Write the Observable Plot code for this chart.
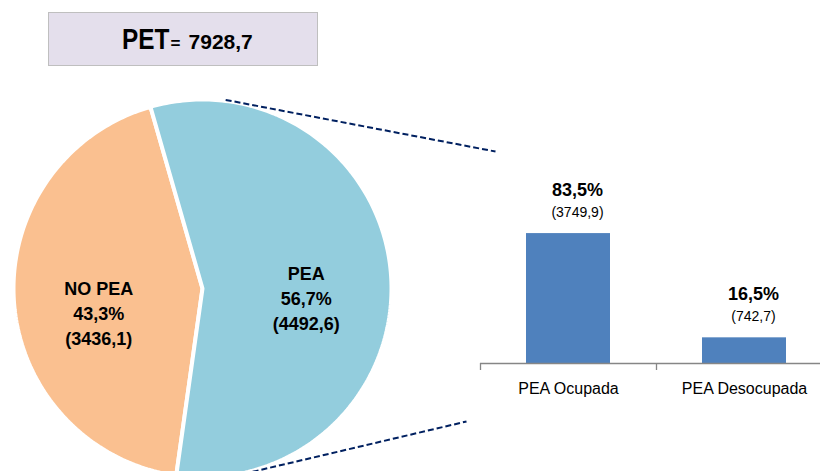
<!DOCTYPE html>
<html>
<head>
<meta charset="utf-8">
<script src="https://cdn.jsdelivr.net/npm/d3@7"></script>
<script src="https://cdn.jsdelivr.net/npm/@observablehq/plot@0.6"></script>
<style>
  body { margin: 0; background: #fff; }
  #wrap { position: relative; width: 820px; height: 471px; overflow: hidden; font-family: "Liberation Sans", Arial, sans-serif; color: #000; }
  #title { position: absolute; left: 48px; top: 12px; width: 268px; height: 52px; background: #E4DFEC; border: 1px solid #BFBFBF;
           display: flex; align-items: baseline; justify-content: center; font-weight: bold; line-height: 52px; }
  #title .big { display: inline-block; font-size: 29px; transform: scaleX(0.84); transform-origin: right center; }
  #title .eq { font-size: 17px; margin: 0 8px 0 1px; }
  #title .num { display: inline-block; font-size: 21px; }
  #pie { position: absolute; left: 0; top: 0; }
  #bars { position: absolute; left: 480px; top: 150px; }
</style>
</head>
<body>
<div id="wrap">
  <div id="pie"></div>
  <div id="bars"></div>
  <div id="title"></div>
</div>
<script>
// ---------- data ----------
const titleLabel = "PET";
const petTotal = 7928.7;

const pieCategories = ["NO PEA", "PEA"];
const pieValues = [3436.1, 4492.6];
const piePercents = [43.3, 56.7];

const barCategories = ["PEA Ocupada", "PEA Desocupada"];
const barPercents = [83.5, 16.5];
const barValues = [3749.9, 742.7];

// ---------- helpers ----------
const fmt = v => v.toFixed(1).replace(".", ",");

document.getElementById("title").innerHTML =
  `<span class="big">${titleLabel}</span><span class="eq">=</span><span class="num">${fmt(petTotal)}</span>`;

// ---------- pie (layout constants in px) ----------
const cx = 202, cy = 288, R = 189;
const peaCentre = 86; // degrees clockwise from 12 o'clock, slice facing the bars
const total = d3.sum(pieValues);
const spans = pieValues.map(v => v / total * 360);
const peaIdx = 1, noIdx = 0;
const starts = [];
starts[peaIdx] = peaCentre - spans[peaIdx] / 2;
starts[noIdx] = starts[peaIdx] + spans[peaIdx];
const pt = (a, r) => [cx + r * Math.sin(a * Math.PI / 180), cy - r * Math.cos(a * Math.PI / 180)];

const pieColors = ["#FAC090", "#93CDDD"];
const slices = pieCategories.map((c, i) => {
  const pts = [{x: cx, y: cy}];
  const a0 = starts[i], a1 = starts[i] + spans[i];
  const n = Math.ceil(spans[i]);
  for (let k = 0; k <= n; k++) {
    const [x, y] = pt(a0 + (a1 - a0) * k / n, R);
    pts.push({x, y});
  }
  return pts;
});
const pieLabelData = pieCategories.map((c, i) => {
  const [x, y] = pt(starts[i] + spans[i] / 2, R * 0.55);
  return {x, y, text: `${c}\n${fmt(piePercents[i])}%\n(${fmt(pieValues[i])})`};
});

// connectors from the PEA slice edge to the bar panel
const connectorAngles = [7, 164.7];
const connectorEnds = [[495, 151], [466, 421]];
const connectors = connectorAngles.map((a, i) => {
  const [x1, y1] = pt(a, R + 1);
  return {x1, y1, x2: connectorEnds[i][0], y2: connectorEnds[i][1]};
});

const piePlot = Plot.plot({
  width: 820, height: 471,
  margin: 0,
  x: {domain: [0, 820], range: [0, 820], axis: null},
  y: {domain: [0, 471], range: [0, 471], axis: null},
  style: {background: "transparent", fontFamily: "'Liberation Sans', Arial, sans-serif", color: "#000"},
  marks: [
    ...slices.map((s, i) => Plot.line(s, {x: "x", y: "y", curve: "linear-closed", fill: pieColors[i], stroke: "white", strokeWidth: 4, strokeLinejoin: "miter"})),
    Plot.text(pieLabelData, {x: "x", y: "y", text: "text", dy: 16, fontSize: 18, fontWeight: "bold", lineHeight: 1.38, fill: "#000"}),
    Plot.link(connectors, {x1: "x1", y1: "y1", x2: "x2", y2: "y2", stroke: "#002060", strokeWidth: 2, strokeDasharray: "6,3"})
  ]
});
document.getElementById("pie").appendChild(piePlot);

// ---------- bars ----------
const bars = barCategories.map((c, i) => ({cat: c, pct: barPercents[i], val: barValues[i]}));
const barPlot = Plot.plot({
  width: 340, height: 260,
  marginTop: 0, marginBottom: 47, marginLeft: 0, marginRight: 0,
  x: {domain: barCategories, range: [0, 352], paddingInner: 0.52, paddingOuter: 0.26, label: null},
  y: {domain: [0, 136.9], axis: null},
  style: {background: "transparent", fontFamily: "'Liberation Sans', Arial, sans-serif", color: "#000", overflow: "visible"},
  marks: [
    Plot.barY(bars, {x: "cat", y: "pct", fill: "#4F81BD"}),
    Plot.ruleY([0], {stroke: "#868686", strokeWidth: 1.3}),
    Plot.ruleX(bars, {x: "cat", y1: 0, y2: 0, dx: -88, insetBottom: -7, stroke: "#868686", strokeWidth: 1.3}),
    Plot.text(bars, {x: "cat", y: "pct", text: d => fmt(d.pct) + "%", dx: 9, dy: -38, lineAnchor: "bottom", fontSize: 18, fontWeight: "bold", fill: "#000"}),
    Plot.text(bars, {x: "cat", y: "pct", text: d => "(" + fmt(d.val) + ")", dx: 9, dy: -17, lineAnchor: "bottom", fontSize: 14, fill: "#000"}),
    Plot.axisX({tickSize: 0, tickPadding: 19, fontSize: 16, label: null, fill: "#000"})
  ]
});
document.getElementById("bars").appendChild(barPlot);
</script>
</body>
</html>
